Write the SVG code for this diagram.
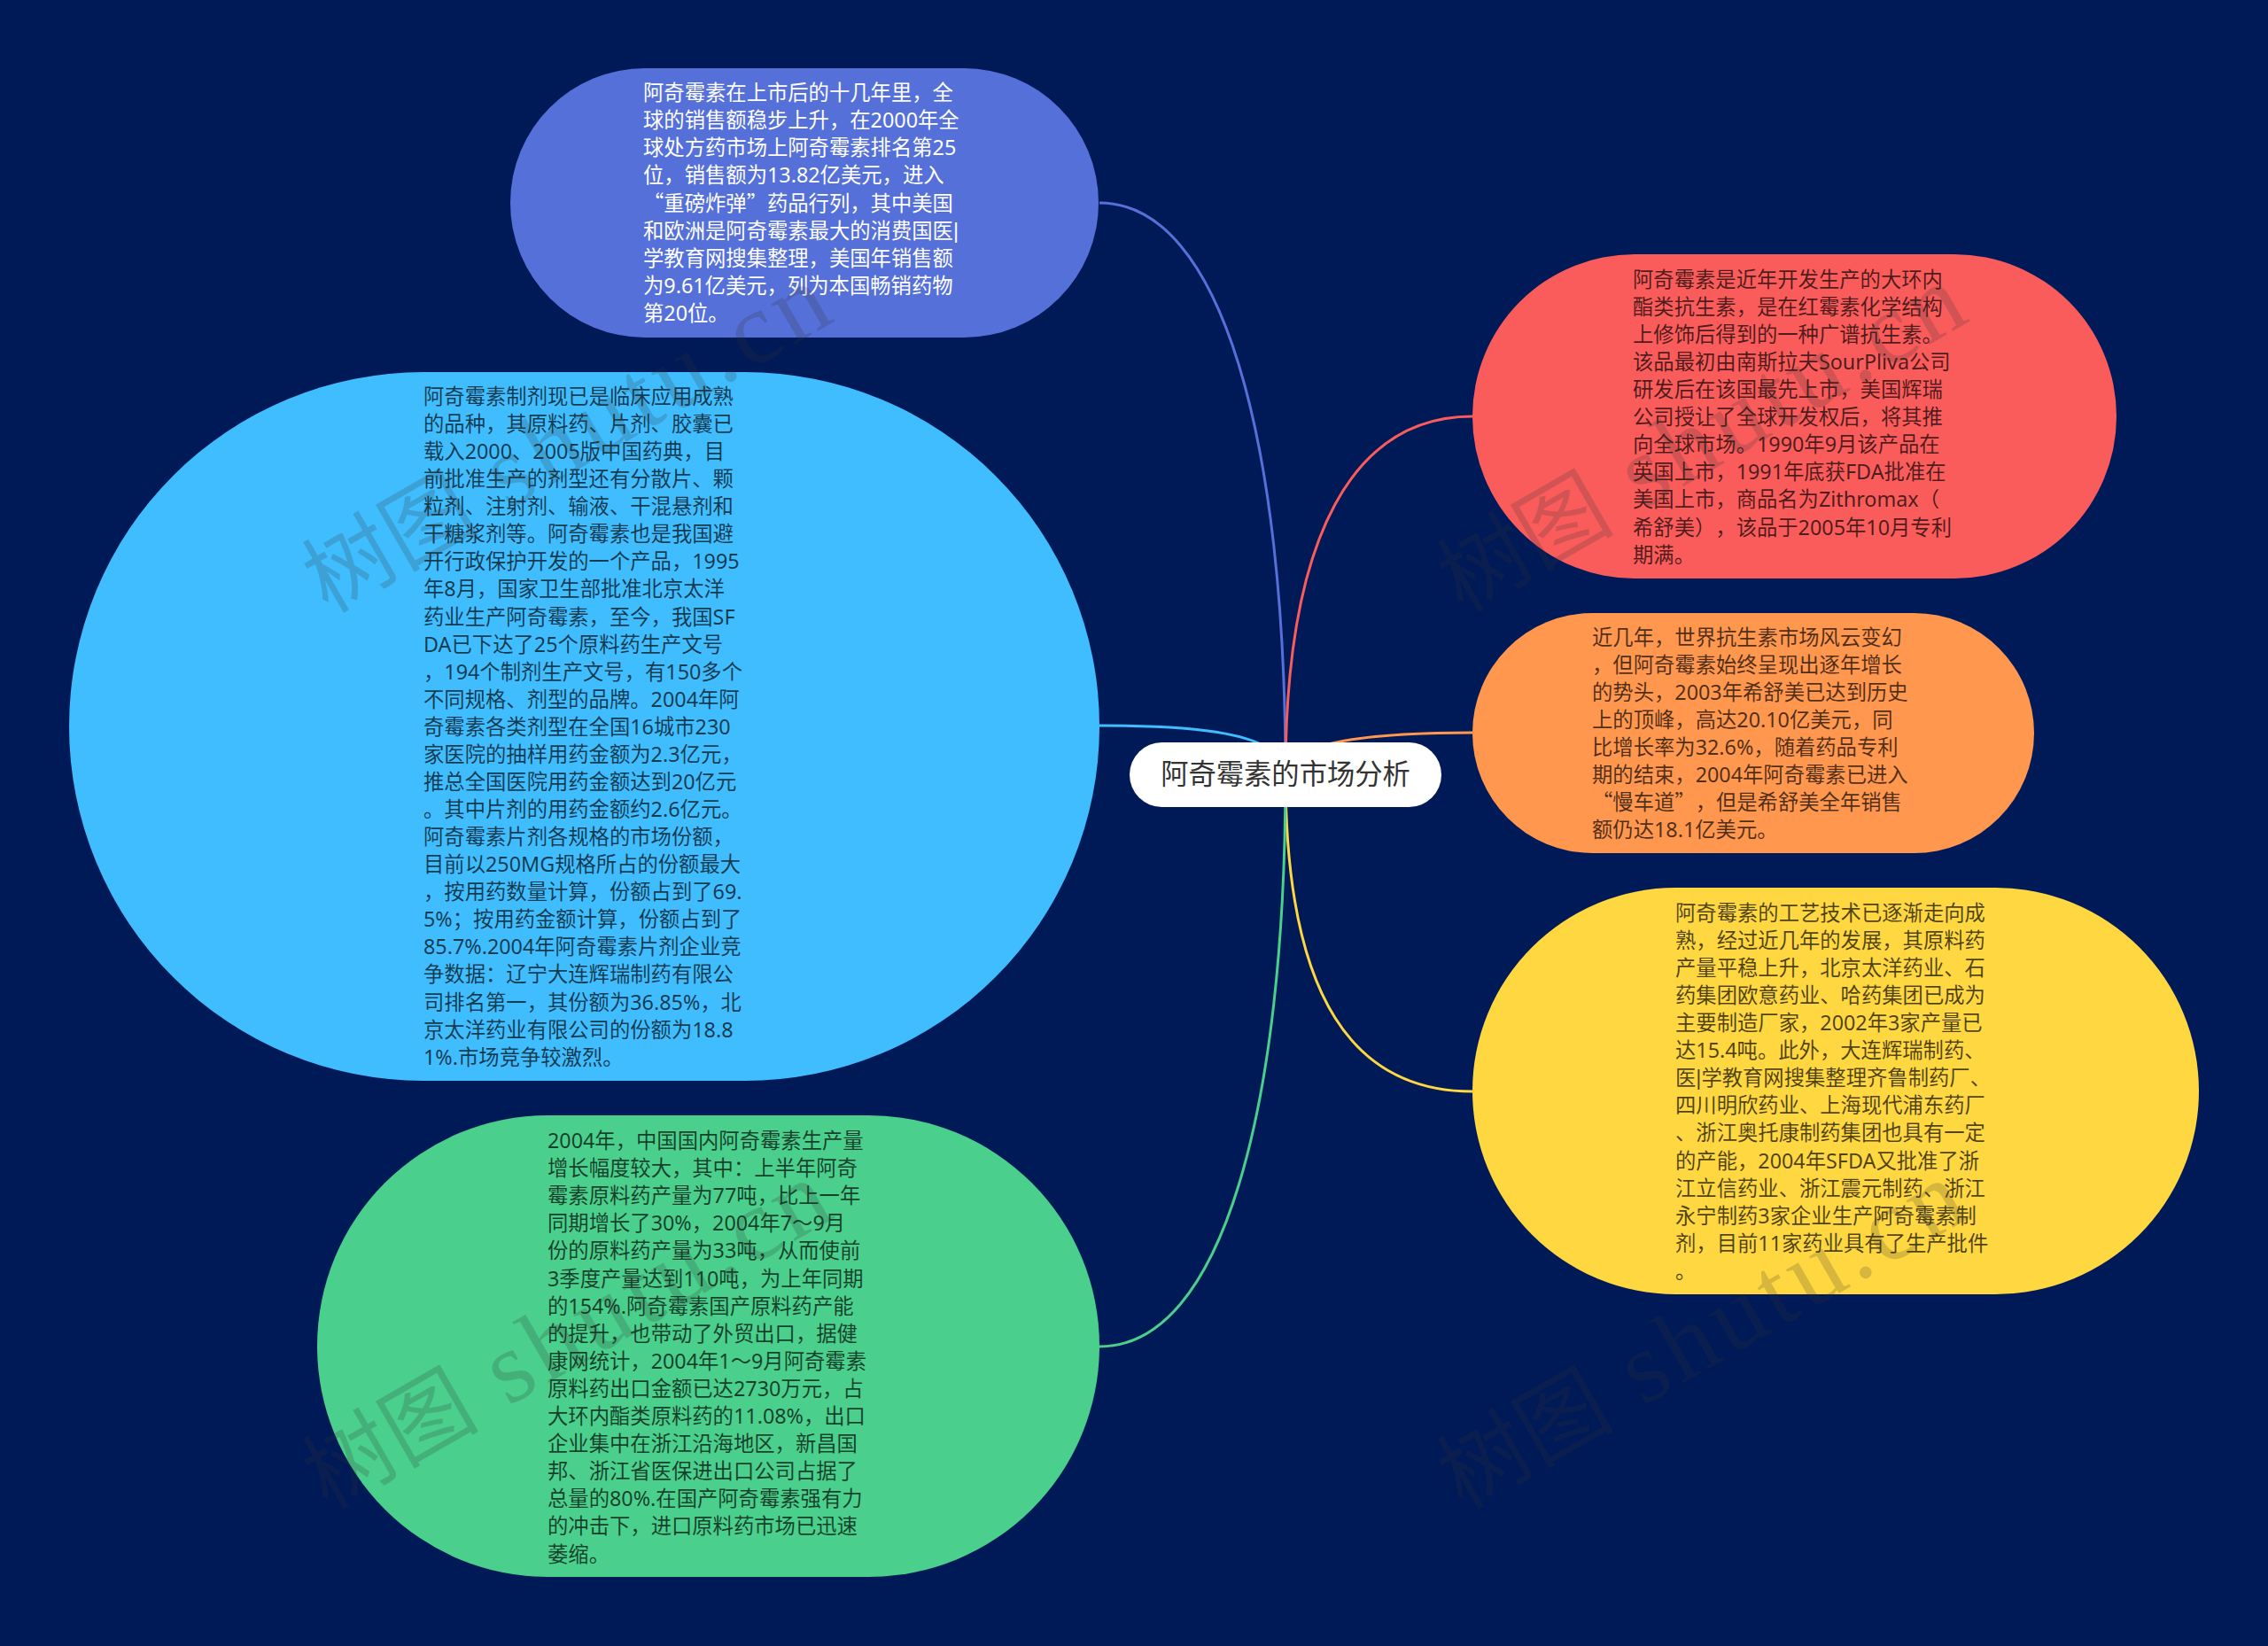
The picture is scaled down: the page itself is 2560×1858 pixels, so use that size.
<svg xmlns="http://www.w3.org/2000/svg" width="2560" height="1858" viewBox="0 0 2560 1858" lang="zh-CN">
<style>
text{font-family:"Noto Sans","Noto Sans CJK SC",sans-serif;font-size:23.33px;text-spacing-trim:space-all;font-feature-settings:"chws" 0,"halt" 0}
.b{fill:#000;fill-opacity:.7}
.w{fill:#fff}
.q{font-family:"Noto Sans CJK SC",sans-serif}
.p{font-family:"Liberation Sans",sans-serif}
.t{fill:#333;font-size:31.3px;text-anchor:middle}
.c{fill:none;stroke-width:3}
.wm{font-family:"Liberation Serif","Noto Sans CJK SC",serif;font-size:100px;fill:#333;fill-opacity:.2}
.wl{font-size:115px;letter-spacing:6px}
</style>
<rect width="2560" height="1858" fill="#001A57"/>
<g id="connectors">
<path class="c" stroke="#5570D8" d="M1241,229C1380,229 1451,500 1451,874"/>
<path class="c" stroke="#FA5C5C" d="M1662,470C1530,470 1451,600 1451,874"/>
<path class="c" stroke="#40BDFF" d="M1241,819C1340,819 1451,825 1451,874"/>
<path class="c" stroke="#FF974F" d="M1662,827C1595,827 1451,830 1451,874"/>
<path class="c" stroke="#FFD740" d="M1662,1232C1530,1232 1451,1130 1451,874"/>
<path class="c" stroke="#4ACF8C" d="M1241,1520C1380,1520 1451,1250 1451,874"/>
</g>
<g id="node-center">
<rect x="1275" y="838" width="352" height="73" rx="36.5" fill="#fff"/>
<text class="t" x="1451" y="885">阿奇霉素的市场分析</text>
</g>
<g id="node-blue">
<rect x="576" y="77" width="664" height="304" rx="152" fill="#5570D8"/>
<text class="w" y="82"><tspan x="726" dy="31.1">阿奇霉素在上市后的十几年里，全</tspan><tspan x="726" dy="31.1">球的销售额稳步上升，在2000年全</tspan><tspan x="726" dy="31.1">球处方药市场上阿奇霉素排名第25</tspan><tspan x="726" dy="31.1">位，销售额为13.82亿美元，进入</tspan><tspan x="726" dy="31.1"><tspan class="q">“</tspan>重磅炸弹<tspan class="q">”</tspan>药品行列，其中美国</tspan><tspan x="726" dy="31.1">和欧洲是阿奇霉素最大的消费国医<tspan class="p">|</tspan></tspan><tspan x="726" dy="31.1">学教育网搜集整理，美国年销售额</tspan><tspan x="726" dy="31.1">为9.61亿美元，列为本国畅销药物</tspan><tspan x="726" dy="31.1">第20位。</tspan></text>
</g>
<g id="node-sky">
<rect x="78" y="420" width="1163" height="800" rx="400" fill="#40BDFF"/>
<text class="b" y="424.9"><tspan x="478" dy="31.07">阿奇霉素制剂现已是临床应用成熟</tspan><tspan x="478" dy="31.07">的品种，其原料药、片剂、胶囊已</tspan><tspan x="478" dy="31.07">载入2000、2005版中国药典，目</tspan><tspan x="478" dy="31.07">前批准生产的剂型还有分散片、颗</tspan><tspan x="478" dy="31.07">粒剂、注射剂、输液、干混悬剂和</tspan><tspan x="478" dy="31.07">干糖浆剂等。阿奇霉素也是我国避</tspan><tspan x="478" dy="31.07">开行政保护开发的一个产品，1995</tspan><tspan x="478" dy="31.07">年8月，国家卫生部批准北京太洋</tspan><tspan x="478" dy="31.07">药业生产阿奇霉素，至今，我国SF</tspan><tspan x="478" dy="31.07">DA已下达了25个原料药生产文号</tspan><tspan x="478" dy="31.07">，194个制剂生产文号，有150多个</tspan><tspan x="478" dy="31.07">不同规格、剂型的品牌。2004年阿</tspan><tspan x="478" dy="31.07">奇霉素各类剂型在全国16城市230</tspan><tspan x="478" dy="31.07">家医院的抽样用药金额为2.3亿元，</tspan><tspan x="478" dy="31.07">推总全国医院用药金额达到20亿元</tspan><tspan x="478" dy="31.07">。其中片剂的用药金额约2.6亿元。</tspan><tspan x="478" dy="31.07">阿奇霉素片剂各规格的市场份额，</tspan><tspan x="478" dy="31.07">目前以250MG规格所占的份额最大</tspan><tspan x="478" dy="31.07">，按用药数量计算，份额占到了69.</tspan><tspan x="478" dy="31.07">5%；按用药金额计算，份额占到了</tspan><tspan x="478" dy="31.07">85.7%.2004年阿奇霉素片剂企业竞</tspan><tspan x="478" dy="31.07">争数据：辽宁大连辉瑞制药有限公</tspan><tspan x="478" dy="31.07">司排名第一，其份额为36.85%，北</tspan><tspan x="478" dy="31.07">京太洋药业有限公司的份额为18.8</tspan><tspan x="478" dy="31.07">1%.市场竞争较激烈。</tspan></text>
</g>
<g id="node-green">
<rect x="358" y="1259" width="883" height="521" rx="260.5" fill="#4ACF8C"/>
<text class="b" y="1264.9"><tspan x="618" dy="31.1">2004年，中国国内阿奇霉素生产量</tspan><tspan x="618" dy="31.1">增长幅度较大，其中：上半年阿奇</tspan><tspan x="618" dy="31.1">霉素原料药产量为77吨，比上一年</tspan><tspan x="618" dy="31.1">同期增长了30%，2004年7～9月</tspan><tspan x="618" dy="31.1">份的原料药产量为33吨，从而使前</tspan><tspan x="618" dy="31.1">3季度产量达到110吨，为上年同期</tspan><tspan x="618" dy="31.1">的154%.阿奇霉素国产原料药产能</tspan><tspan x="618" dy="31.1">的提升，也带动了外贸出口，据健</tspan><tspan x="618" dy="31.1">康网统计，2004年1～9月阿奇霉素</tspan><tspan x="618" dy="31.1">原料药出口金额已达2730万元，占</tspan><tspan x="618" dy="31.1">大环内酯类原料药的11.08%，出口</tspan><tspan x="618" dy="31.1">企业集中在浙江沿海地区，新昌国</tspan><tspan x="618" dy="31.1">邦、浙江省医保进出口公司占据了</tspan><tspan x="618" dy="31.1">总量的80%.在国产阿奇霉素强有力</tspan><tspan x="618" dy="31.1">的冲击下，进口原料药市场已迅速</tspan><tspan x="618" dy="31.1">萎缩。</tspan></text>
</g>
<g id="node-red">
<rect x="1662" y="287" width="727" height="366" rx="183" fill="#FA5C5C"/>
<text class="b" y="292.5"><tspan x="1843" dy="31.1">阿奇霉素是近年开发生产的大环内</tspan><tspan x="1843" dy="31.1">酯类抗生素，是在红霉素化学结构</tspan><tspan x="1843" dy="31.1">上修饰后得到的一种广谱抗生素。</tspan><tspan x="1843" dy="31.1">该品最初由南斯拉夫SourPliva公司</tspan><tspan x="1843" dy="31.1">研发后在该国最先上市，美国辉瑞</tspan><tspan x="1843" dy="31.1">公司授让了全球开发权后，将其推</tspan><tspan x="1843" dy="31.1">向全球市场。1990年9月该产品在</tspan><tspan x="1843" dy="31.1">英国上市，1991年底获FDA批准在</tspan><tspan x="1843" dy="31.1">美国上市，商品名为Zithromax（</tspan><tspan x="1843" dy="31.1">希舒美），该品于2005年10月专利</tspan><tspan x="1843" dy="31.1">期满。</tspan></text>
</g>
<g id="node-orange">
<rect x="1662" y="692" width="634" height="271" rx="135.5" fill="#FF974F"/>
<text class="b" y="696.5"><tspan x="1797" dy="31.1">近几年，世界抗生素市场风云变幻</tspan><tspan x="1797" dy="31.1">，但阿奇霉素始终呈现出逐年增长</tspan><tspan x="1797" dy="31.1">的势头，2003年希舒美已达到历史</tspan><tspan x="1797" dy="31.1">上的顶峰，高达20.10亿美元，同</tspan><tspan x="1797" dy="31.1">比增长率为32.6%，随着药品专利</tspan><tspan x="1797" dy="31.1">期的结束，2004年阿奇霉素已进入</tspan><tspan x="1797" dy="31.1"><tspan class="q">“</tspan>慢车道<tspan class="q">”</tspan>，但是希舒美全年销售</tspan><tspan x="1797" dy="31.1">额仍达18.1亿美元。</tspan></text>
</g>
<g id="node-yellow">
<rect x="1662" y="1002" width="820" height="459" rx="229.5" fill="#FFD740"/>
<text class="b" y="1007.5"><tspan x="1891" dy="31.1">阿奇霉素的工艺技术已逐渐走向成</tspan><tspan x="1891" dy="31.1">熟，经过近几年的发展，其原料药</tspan><tspan x="1891" dy="31.1">产量平稳上升，北京太洋药业、石</tspan><tspan x="1891" dy="31.1">药集团欧意药业、哈药集团已成为</tspan><tspan x="1891" dy="31.1">主要制造厂家，2002年3家产量已</tspan><tspan x="1891" dy="31.1">达15.4吨。此外，大连辉瑞制药、</tspan><tspan x="1891" dy="31.1">医<tspan class="p">|</tspan>学教育网搜集整理齐鲁制药厂、</tspan><tspan x="1891" dy="31.1">四川明欣药业、上海现代浦东药厂</tspan><tspan x="1891" dy="31.1">、浙江奥托康制药集团也具有一定</tspan><tspan x="1891" dy="31.1">的产能，2004年SFDA又批准了浙</tspan><tspan x="1891" dy="31.1">江立信药业、浙江震元制药、浙江</tspan><tspan x="1891" dy="31.1">永宁制药3家企业生产阿奇霉素制</tspan><tspan x="1891" dy="31.1">剂，目前11家药业具有了生产批件</tspan><tspan x="1891" dy="31.1">。</tspan></text>
</g>
<g id="watermark">
<text class="wm" transform="translate(370,693) rotate(-30)">树图<tspan class="wl"> shutu.cn</tspan></text>
<text class="wm" transform="translate(1651,693) rotate(-30)">树图<tspan class="wl"> shutu.cn</tspan></text>
<text class="wm" transform="translate(370,1705) rotate(-30)">树图<tspan class="wl"> shutu.cn</tspan></text>
<text class="wm" transform="translate(1651,1705) rotate(-30)">树图<tspan class="wl"> shutu.cn</tspan></text>
</g>
</svg>
